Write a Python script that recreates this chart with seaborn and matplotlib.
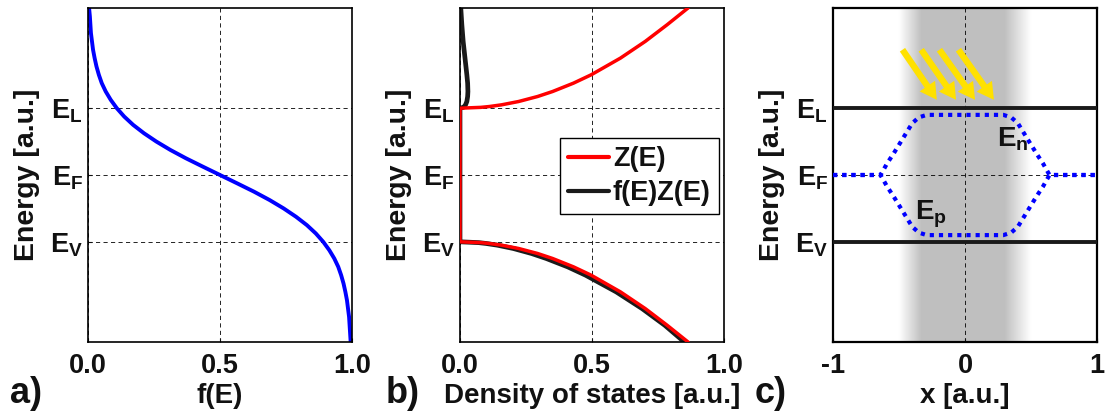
import numpy as np
import pandas as pd
import matplotlib
matplotlib.use("Agg")
import matplotlib.pyplot as plt
from matplotlib.patches import FancyArrowPatch, ArrowStyle
import seaborn as sns

# ---- band levels (shared energy axis) ----
level_labels = [r"$E_V$", r"$E_F$", r"$E_L$"]
level_values = [-0.4, 0.0, 0.4]
E_V, E_F, E_L = level_values

# ---- a) Fermi occupation f(E) ----
energy_a = [1.00, 0.95, 0.90, 0.85, 0.80, 0.75, 0.70, 0.65, 0.60, 0.55, 0.50,
            0.45, 0.40, 0.35, 0.30, 0.25, 0.20, 0.15, 0.10, 0.05, 0.00,
            -0.05, -0.10, -0.15, -0.20, -0.25, -0.30, -0.35, -0.40, -0.45,
            -0.50, -0.55, -0.60, -0.65, -0.70, -0.75, -0.80, -0.85, -0.90,
            -0.95, -1.00]
fermi = [0.004, 0.007, 0.009, 0.011, 0.015, 0.019, 0.025, 0.032, 0.041, 0.052,
         0.067, 0.086, 0.109, 0.137, 0.171, 0.212, 0.259, 0.312, 0.371, 0.435,
         0.500, 0.565, 0.629, 0.688, 0.741, 0.788, 0.829, 0.863, 0.891, 0.914,
         0.933, 0.948, 0.959, 0.968, 0.975, 0.981, 0.985, 0.989, 0.991, 0.993,
         0.995]

# ---- b) density of states Z(E) and occupied states f(E)Z(E) ----
energy_b = [-1.00, -0.90, -0.80, -0.70, -0.60, -0.55, -0.50, -0.47, -0.44,
            -0.42, -0.41, -0.405, -0.40, 0.40, 0.405, 0.41, 0.42, 0.44, 0.47,
            0.50, 0.55, 0.60, 0.70, 0.80, 0.90, 1.00]
dos = [0.864, 0.785, 0.702, 0.608, 0.497, 0.430, 0.351, 0.294, 0.222,
       0.157, 0.111, 0.079, 0.0, 0.0, 0.079, 0.111, 0.157, 0.222, 0.294,
       0.351, 0.430, 0.497, 0.608, 0.702, 0.785, 0.864]
occupied = [0.850, 0.776, 0.690, 0.592, 0.476, 0.408, 0.327, 0.271, 0.202,
            0.141, 0.099, 0.071, 0.0, 0.0, 0.012, 0.016, 0.021, 0.026, 0.029,
            0.030, 0.029, 0.026, 0.019, 0.012, 0.007, 0.003]

# ---- c) quasi-Fermi levels across the illuminated region ----
position = [-1.00, -0.64, -0.59, -0.54, -0.47, -0.40, -0.35, -0.29,
            0.29, 0.35, 0.40, 0.47, 0.54, 0.59, 0.64, 1.00]
quasi_n = [0.0, 0.0, 0.07, 0.13, 0.22, 0.31, 0.345, 0.36,
           0.36, 0.345, 0.31, 0.22, 0.13, 0.07, 0.0, 0.0]
quasi_p = [0.0, 0.0, -0.07, -0.13, -0.22, -0.31, -0.345, -0.36,
           -0.36, -0.345, -0.31, -0.22, -0.13, -0.07, 0.0, 0.0]

# photon arrows (start / end points)
arrow_x0 = [-0.474, -0.332, -0.194, -0.050]
arrow_x1 = [-0.214, -0.068, 0.076, 0.219]
arrow_y0 = 0.75
arrow_y1 = 0.45

sns.set_style("ticks")
plt.rcParams["font.family"] = ["Liberation Sans", "DejaVu Sans"]
plt.rcParams["font.weight"] = "bold"
plt.rcParams["mathtext.fontset"] = "custom"
for key in ("mathtext.rm", "mathtext.it", "mathtext.bf", "mathtext.sf"):
    plt.rcParams[key] = "Liberation Sans:bold"
plt.rcParams["font.size"] = 19.5
for key in ("text.color", "axes.labelcolor", "xtick.color", "ytick.color"):
    plt.rcParams[key] = "#111111"

fig = plt.figure(figsize=(11.1, 4.12), dpi=100)
ax_w, ax_h, ax_b = 0.2378, 0.8107, 0.1699
axes = [fig.add_axes([left, ax_b, ax_w, ax_h]) for left in (0.0793, 0.4144, 0.7505)]

grid_kw = dict(color="black", linestyle=(0, (5, 4)), linewidth=0.6)


def style_axes(ax, xticks, xticklabels, xlabel, spine_lw=1.2):
    ax.set_ylim(-1, 1)
    ax.set_yticks(level_values)
    ax.set_yticklabels(level_labels)
    ax.set_xticks(xticks)
    ax.set_xticklabels(xticklabels)
    ax.set_xlim(xticks[0], xticks[-1])
    ax.set_xlabel(xlabel, fontweight="bold", fontsize=20, labelpad=3)
    ax.set_ylabel("Energy [a.u.]", fontweight="bold", fontsize=20.5, labelpad=7)
    ax.tick_params(direction="in", length=3, width=0.8, pad=8, labelsize=19.5)
    ax.tick_params(axis="y", pad=4)
    for s in ax.spines.values():
        s.set_visible(True)
        s.set_linewidth(spine_lw)
        s.set_color("black")
    ax.grid(True, **grid_kw)
    ax.set_axisbelow(True)


# a) Fermi function
ax = axes[0]
sns.lineplot(x=fermi, y=energy_a, sort=False, estimator=None, color="#0000ff",
             linewidth=2.8, ax=ax)
style_axes(ax, [0, 0.5, 1], ["0.0", "0.5", "1.0"], "f(E)")

# b) density of states
ax = axes[1]
df_b = pd.DataFrame({"E": energy_b * 2,
                     "value": dos + occupied,
                     "series": ["Z(E)"] * len(dos) + ["f(E)Z(E)"] * len(occupied)})
sns.lineplot(data=df_b[df_b.series == "f(E)Z(E)"], x="value", y="E", sort=False,
             estimator=None, color="#1a1a1a", linewidth=3.4, ax=ax,
             label="f(E)Z(E)", zorder=2)
sns.lineplot(data=df_b[df_b.series == "Z(E)"], x="value", y="E", sort=False,
             estimator=None, color="#ff0000", linewidth=2.5, ax=ax,
             label="Z(E)", zorder=3)
style_axes(ax, [0, 0.5, 1], ["0.0", "0.5", "1.0"], "Density of states [a.u.]")
handles, labels = ax.get_legend_handles_labels()
leg = ax.legend(handles[::-1], labels[::-1], loc="upper right",
                bbox_to_anchor=(0.981, 0.611), borderaxespad=0, fancybox=False,
                framealpha=1, edgecolor="black", fontsize=19.5, handlelength=1.5,
                handletextpad=0.15, borderpad=0.3, labelspacing=0.3)
leg.get_frame().set_linewidth(1.0)
for line in leg.get_lines():
    line.set_linewidth(3)

# c) quasi-Fermi levels under illumination
ax = axes[2]
xs = np.linspace(-1, 1, 600)
band = np.interp(xs, [-0.50, -0.33, 0.30, 0.50], [0, 1, 1, 0])
shade = 1 - 0.25 * band
img = np.repeat(shade[None, :, None], 3, axis=2)
ax.imshow(img, extent=(-1, 1, -1, 1), aspect="auto", zorder=0, interpolation="bilinear")
for lvl in (E_L, E_V):
    ax.axhline(lvl, color="#1a1a1a", linewidth=2.8, zorder=3)
dot_kw = dict(sort=False, estimator=None, color="#0000ff", linewidth=3.0, zorder=4)
for qf in (quasi_n, quasi_p):
    sns.lineplot(x=position, y=qf, ax=ax, **dot_kw)
for line in ax.get_lines()[-2:]:
    line.set_dashes((1, 1.2))
    line.set_dash_capstyle("butt")
style_axes(ax, [-1, 0, 1], ["-1", "0", "1"], "x [a.u.]", spine_lw=1.6)
ax.text(0.239, 0.17, r"$E_n$", fontsize=20, ha="left", va="baseline", color="#111111", zorder=5)
ax.text(-0.378, -0.268, r"$E_p$", fontsize=20, ha="left", va="baseline", color="#111111", zorder=5)
arrow_style = ArrowStyle.Simple(head_length=12, head_width=13.5, tail_width=4.6)
for x0, x1 in zip(arrow_x0, arrow_x1):
    ax.add_patch(FancyArrowPatch((x0, arrow_y0), (x1, arrow_y1), arrowstyle=arrow_style,
                                 mutation_scale=1, color="#ffe100", linewidth=0,
                                 shrinkA=0, shrinkB=0, zorder=5))

# panel labels
for xpos, lab in zip((0.009, 0.347, 0.680), ("a)", "b)", "c)")):
    fig.text(xpos, 0.022, lab, fontsize=26, fontweight="bold", va="baseline", ha="left")

fig.savefig("out.png", dpi=100)
